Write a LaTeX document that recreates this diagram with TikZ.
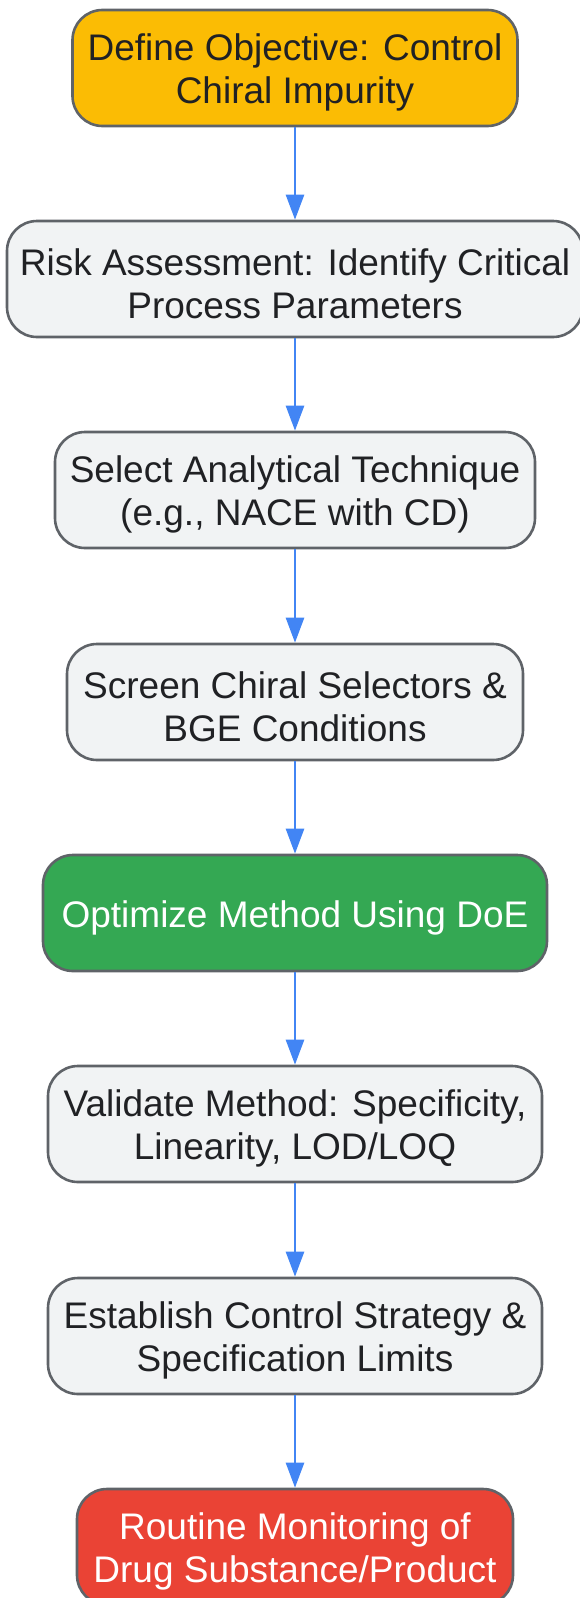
\documentclass[tikz,border=0pt]{standalone}
\usepackage{fontspec}
\setmainfont{Liberation Sans}
\usetikzlibrary{arrows.meta,positioning}
\definecolor{gyellow}{HTML}{FBBC04}
\definecolor{ggrey}{HTML}{F1F3F4}
\definecolor{gborder}{HTML}{5F6368}
\definecolor{ggreen}{HTML}{34A853}
\definecolor{gred}{HTML}{EA4335}
\definecolor{gblue}{HTML}{4285F4}
\definecolor{gtext}{HTML}{202124}
\newcommand{\stepstrut}{\rule{0pt}{36pt}}

\begin{document}
\begin{tikzpicture}[x=1pt,y=-1pt,>={Triangle[length=25pt,width=18pt]},
  stepbox/.style={draw=gborder,line width=2.6pt,fill=ggrey,text=gtext,rounded corners=30pt,
    minimum height=116pt,inner sep=0pt,align=center,font=\fontsize{37}{43}\selectfont},
  flow/.style={->,draw=gblue,line width=2.6pt}]
\useasboundingbox (0,0) rectangle (580,1598);
% steps, top to bottom
\node[stepbox,fill=gyellow,minimum width=445pt] (objective) at (295,68) {\stepstrut Define Objective: Control\\Chiral Impurity};
\node[stepbox,minimum width=576pt] (risk) at (295,279) {\stepstrut Risk Assessment: Identify Critical\\Process Parameters};
\node[stepbox,minimum width=480pt] (technique) at (295,490) {\stepstrut Select Analytical Technique\\(e.g., NACE with CD)};
\node[stepbox,minimum width=456pt] (screen) at (295,702) {\stepstrut Screen Chiral Selectors \&\\BGE Conditions};
\node[stepbox,fill=ggreen,text=white,minimum width=504pt] (optimize) at (295,913) {\stepstrut Optimize Method Using DoE};
\node[stepbox,minimum width=494pt] (validate) at (295,1124) {\stepstrut Validate Method: Specificity,\\Linearity, LOD/LOQ};
\node[stepbox,minimum width=494pt] (strategy) at (295,1336) {\stepstrut Establish Control Strategy \&\\Specification Limits};
\node[stepbox,fill=gred,text=white,minimum width=436pt] (routine) at (295,1547) {\stepstrut Routine Monitoring of\\Drug Substance/Product};
% connectors
\draw[flow] (objective) -- (risk);
\draw[flow] (risk) -- (technique);
\draw[flow] (technique) -- (screen);
\draw[flow] (screen) -- (optimize);
\draw[flow] (optimize) -- (validate);
\draw[flow] (validate) -- (strategy);
\draw[flow] (strategy) -- (routine);
\end{tikzpicture}
\end{document}
